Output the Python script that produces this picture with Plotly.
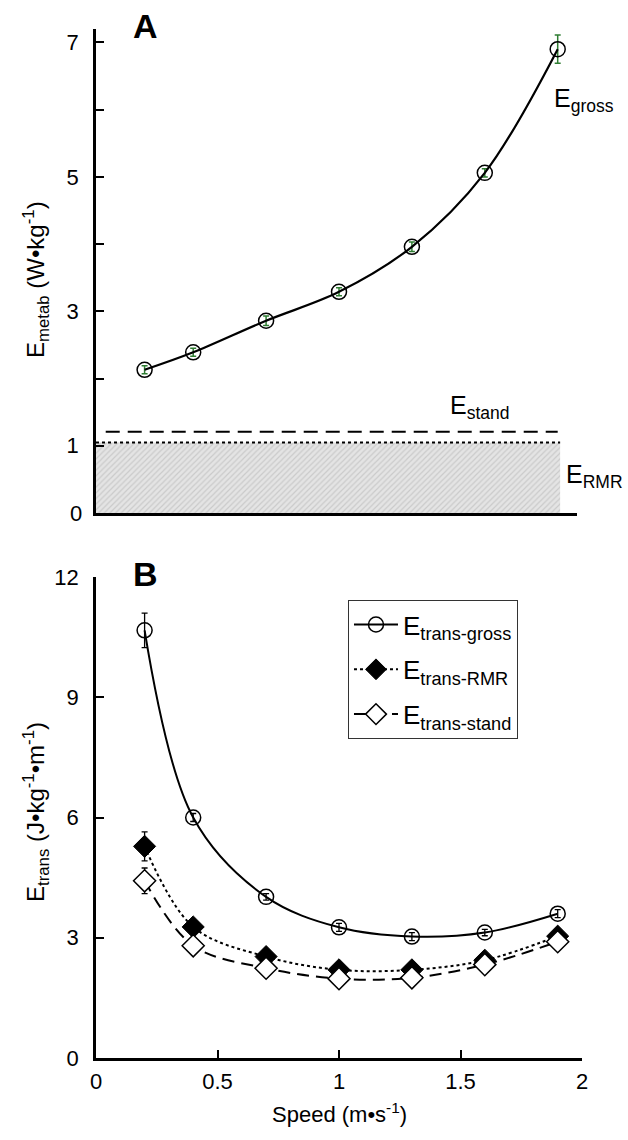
import plotly.graph_objects as go

# ---------------- data ----------------
speed = [0.2, 0.4, 0.7, 1.0, 1.3, 1.6, 1.9]

# Panel A: metabolic power (W/kg)
e_gross = [2.13, 2.39, 2.86, 3.29, 3.96, 5.06, 6.9]
e_gross_err = [0.06, 0.06, 0.07, 0.06, 0.07, 0.06, 0.21]
e_rmr = 1.05
e_stand = 1.21
band_x = [0.0, 1.91]
stand_x = [0.04, 1.9]

# Panel B: cost of transport (J/kg/m)
et_gross = [10.67, 6.0, 4.02, 3.26, 3.03, 3.13, 3.6]
et_gross_err = [0.43, 0.1, 0.08, 0.1, 0.1, 0.08, 0.1]
et_rmr = [5.28, 3.27, 2.53, 2.2, 2.2, 2.44, 3.04]
et_rmr_err = [0.36, 0.08, 0.06, 0.05, 0.05, 0.05, 0.06]
et_stand = [4.42, 2.8, 2.24, 1.98, 2.0, 2.33, 2.9]
et_stand_err = [0.32, 0.08, 0.06, 0.05, 0.05, 0.05, 0.06]

yA_labeled = [1, 3, 5, 7]
yA_minor = [2, 4, 6]
yB_ticks = [0, 3, 6, 9, 12]
xB_ticks = [0, 0.5, 1, 1.5, 2]
xB_text = ["0", "0.5", "1", "1.5", "2"]

FONT = "Arial, Liberation Sans, sans-serif"
GREEN = "#2f7d32"

fig = go.Figure()

# ---- Panel A ----
fig.add_trace(go.Scatter(
    x=band_x, y=[e_rmr, e_rmr], mode="lines", fill="tozeroy",
    line=dict(color="black", width=2, dash="dot"),
    fillcolor="#dcdcdc",
    fillpattern=dict(shape="/", fgcolor="#b0b0b0", bgcolor="#e4e4e4", size=4, solidity=0.3),
    xaxis="x", yaxis="y", showlegend=False, hoverinfo="skip"))
fig.add_trace(go.Scatter(
    x=stand_x, y=[e_stand, e_stand], mode="lines",
    line=dict(color="black", width=2, dash="14px,8px"),
    xaxis="x", yaxis="y", showlegend=False))
fig.add_trace(go.Scatter(
    x=speed, y=e_gross, mode="lines+markers",
    line=dict(color="black", width=2.2, shape="spline"),
    marker=dict(symbol="circle-open", size=15, color="black", line=dict(width=1.5)),
    error_y=dict(type="data", array=e_gross_err, color=GREEN, thickness=1.5, width=3),
    xaxis="x", yaxis="y", showlegend=False))

# ---- Panel B ----
fig.add_trace(go.Scatter(
    x=speed, y=et_gross, mode="lines+markers", name="E<sub>trans-gross</sub>",
    legendgroup="g1",
    line=dict(color="black", width=2, shape="spline"),
    marker=dict(symbol="circle-open", size=15, color="black", line=dict(width=1.5)),
    error_y=dict(type="data", array=et_gross_err, color="black", thickness=1.3, width=3),
    xaxis="x2", yaxis="y2"))
fig.add_trace(go.Scatter(
    x=speed, y=et_rmr, mode="lines+markers", name="E<sub>trans-RMR</sub>",
    legendgroup="g2",
    line=dict(color="black", width=2, dash="dot", shape="spline"),
    marker=dict(symbol="diamond", size=17, color="black", line=dict(width=1, color="black")),
    error_y=dict(type="data", array=et_rmr_err, color="black", thickness=1.3, width=3),
    xaxis="x2", yaxis="y2"))
fig.add_trace(go.Scatter(
    x=speed, y=et_stand, mode="lines+markers", name="E<sub>trans-stand</sub>",
    legendgroup="g3",
    line=dict(color="black", width=2, dash="12px,7px", shape="spline"),
    marker=dict(symbol="diamond", size=17, color="white", line=dict(width=1.5, color="black")),
    error_y=dict(type="data", array=et_stand_err, color="black", thickness=1.3, width=3),
    xaxis="x2", yaxis="y2"))

axis_common = dict(showline=True, linecolor="black", linewidth=2.5, ticks="inside",
                   ticklen=8, tickwidth=2, tickcolor="black", showgrid=False, zeroline=False,
                   tickfont=dict(family=FONT, size=22, color="black"), mirror=False)

dA = [(1058 - 513) / 1029, 1.0]
dB = [0.0, (1058 - 577) / 1029]

fig.update_layout(
    width=628, height=1140,
    margin=dict(l=96, r=46, t=29, b=82),
    paper_bgcolor="white", plot_bgcolor="white",
    font=dict(family=FONT, color="black"),
    xaxis=dict(axis_common, domain=[0, 0.99], range=[0, 1.98], anchor="y",
               tickvals=[1.98], showticklabels=False),
    yaxis=dict(axis_common, domain=dA, range=[0, 7.2], anchor="x",
               tickvals=yA_labeled, ticklabelstandoff=10,
               minor=dict(tickvals=yA_minor, ticks="inside", ticklen=8, tickwidth=2,
                          tickcolor="black", showgrid=False)),
    xaxis2=dict(axis_common, domain=[0, 1], range=[0, 2], anchor="y2",
                tickvals=xB_ticks, ticktext=xB_text, ticklabelstandoff=2),
    yaxis2=dict(axis_common, domain=dB, range=[0, 12], anchor="x2",
                tickvals=yB_ticks, ticklabelstandoff=10),
    legend=dict(x=0.5185, y=0.445, xanchor="left", yanchor="top",
                bordercolor="#333", borderwidth=1, bgcolor="white",
                font=dict(family=FONT, size=26, color="black"),
                itemwidth=44, tracegroupgap=8),
    showlegend=True,
)

ann = []
ann.append(dict(xref="paper", yref="paper", x=-0.024, y=dA[0], text="0", showarrow=False,
                xanchor="right", yanchor="middle", font=dict(size=22)))
ann.append(dict(xref="paper", yref="paper", x=(36 - 96) / 486, y=(1058 - 280) / 1029,
                text="E<sub>metab</sub> (W•kg<sup>-1</sup>)", textangle=-90, showarrow=False,
                xanchor="center", yanchor="middle", font=dict(size=24)))
ann.append(dict(xref="paper", yref="paper", x=(36 - 96) / 486, y=(1058 - 812) / 1029,
                text="E<sub>trans</sub> (J•kg<sup>-1</sup>•m<sup>-1</sup>)", textangle=-90,
                showarrow=False, xanchor="center", yanchor="middle", font=dict(size=24)))
ann.append(dict(xref="paper", yref="paper", x=(339 - 96) / 486, y=(1058 - 1113) / 1029,
                text="Speed (m•s<sup>-1</sup>)", showarrow=False,
                xanchor="center", yanchor="middle", font=dict(size=22)))
ann.append(dict(xref="paper", yref="paper", x=(145 - 96) / 486, y=(1058 - 26) / 1029,
                text="<b>A</b>", showarrow=False, xanchor="center", yanchor="middle",
                font=dict(size=34)))
ann.append(dict(xref="paper", yref="paper", x=(145 - 96) / 486, y=(1058 - 574) / 1029,
                text="<b>B</b>", showarrow=False, xanchor="center", yanchor="middle",
                font=dict(size=34)))
ann.append(dict(xref="x", yref="y", x=1.875, y=6.15, text="E<sub>gross</sub>",
                showarrow=False, xanchor="left", yanchor="middle", font=dict(size=25)))
ann.append(dict(xref="x", yref="y", x=1.45, y=1.58, text="E<sub>stand</sub>",
                showarrow=False, xanchor="left", yanchor="middle", font=dict(size=25)))
ann.append(dict(xref="x", yref="y", x=1.925, y=0.55, text="E<sub>RMR</sub>",
                showarrow=False, xanchor="left", yanchor="middle", font=dict(size=25)))
fig.update_layout(annotations=ann)

fig.write_html("out.html", post_script="document.body.style.margin='0px';",
               config={"displayModeBar": False})
